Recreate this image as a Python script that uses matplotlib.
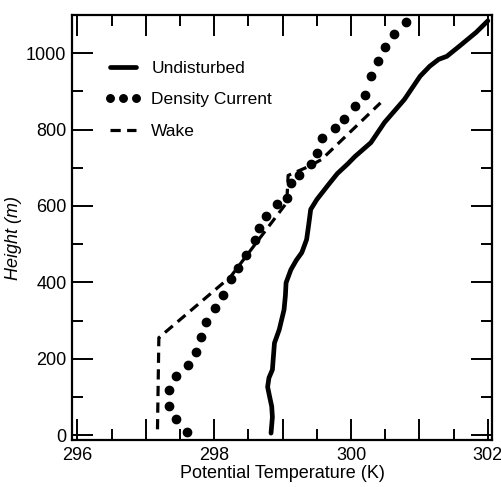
import numpy as np
import matplotlib
matplotlib.use("Agg")
import matplotlib.pyplot as plt
from matplotlib.ticker import MultipleLocator, FuncFormatter

# ---- data ----
undist_theta = [298.83, 298.85, 298.84, 298.81, 298.78, 298.80, 298.85, 298.88, 298.95,
                299.02, 299.04, 299.05, 299.12, 299.20, 299.28, 299.35, 299.38, 299.41,
                299.50, 299.67, 299.80, 299.95, 300.06, 300.29, 300.49, 300.78, 301.01,
                301.15, 301.28, 301.40, 301.58, 301.83, 302.00]
undist_z = [5, 47, 75, 100, 126, 150, 171, 241, 276,
            328, 365, 399, 433, 458, 478, 512, 550, 591,
            617, 656, 685, 710, 730, 766, 819, 879, 940,
            966, 984, 992, 1018, 1055, 1085]

dens_theta = [297.60, 297.44, 297.34, 297.34, 297.44, 297.61, 297.74, 297.80, 297.88,
              298.01, 298.13, 298.24, 298.35, 298.47, 298.59, 298.66, 298.75, 298.92,
              299.06, 299.12, 299.24, 299.42, 299.50, 299.57, 299.76, 299.90, 300.06,
              300.20, 300.29, 300.39, 300.49, 300.63, 300.81]
dens_z = [8, 42, 76, 118, 155, 184, 218, 257, 297,
          333, 367, 409, 438, 472, 512, 543, 575, 604,
          622, 661, 682, 709, 740, 777, 803, 827, 861,
          892, 940, 979, 1016, 1050, 1081]

wake_theta = [297.17, 297.19, 298.24, 299.06, 299.08, 299.40, 299.57, 300.43]
wake_z = [15, 255, 415, 609, 680, 705, 722, 870]

plt.rcParams.update({
    "font.family": "Liberation Sans",
    "font.size": 13,
    "axes.linewidth": 1.6,
    "xtick.direction": "in",
    "ytick.direction": "in",
    "xtick.top": True,
    "ytick.right": True,
})

fig = plt.figure(figsize=(5.02, 4.87), dpi=100)
ax = fig.add_axes([0.1434, 0.0965, 0.8366, 0.8725])

ax.plot(undist_theta, undist_z, color="black", linewidth=3.4,
        solid_capstyle="round", solid_joinstyle="round", label="Undisturbed")
ax.plot(dens_theta, dens_z, linestyle="none", marker="o", markersize=6,
        color="black", label="Density Current")
ax.plot(wake_theta, wake_z, color="black", linewidth=2.3,
        dashes=(3.2, 2.0), label="Wake")

ax.set_xlim(295.92, 302.06)
ax.set_ylim(-13, 1100)

# major ticks every 1 K but labels only on even values
ax.xaxis.set_major_locator(MultipleLocator(1))
ax.xaxis.set_minor_locator(MultipleLocator(0.5))
ax.xaxis.set_major_formatter(FuncFormatter(
    lambda v, p: f"{v:.0f}" if round(v) % 2 == 0 else ""))
ax.yaxis.set_major_locator(MultipleLocator(200))
ax.yaxis.set_minor_locator(MultipleLocator(100))

ax.tick_params(which="major", length=15, width=1.4, labelsize=13)
ax.tick_params(which="minor", length=8, width=1.4)
ax.tick_params(axis="x", pad=5)
ax.tick_params(axis="y", pad=4)

ax.set_xlabel("Potential Temperature (K)", fontsize=13, labelpad=1)
ax.set_ylabel("Height (m)", fontsize=13, style="italic")
ax.yaxis.set_label_coords(-0.118, 0.475)

ax.legend(loc="upper left", bbox_to_anchor=(0.04, 0.93), frameon=False,
          fontsize=12.5, handlelength=2.1, handletextpad=0.6,
          labelspacing=0.95, numpoints=3, markerscale=0.9)

fig.savefig("out.png", dpi=100)
